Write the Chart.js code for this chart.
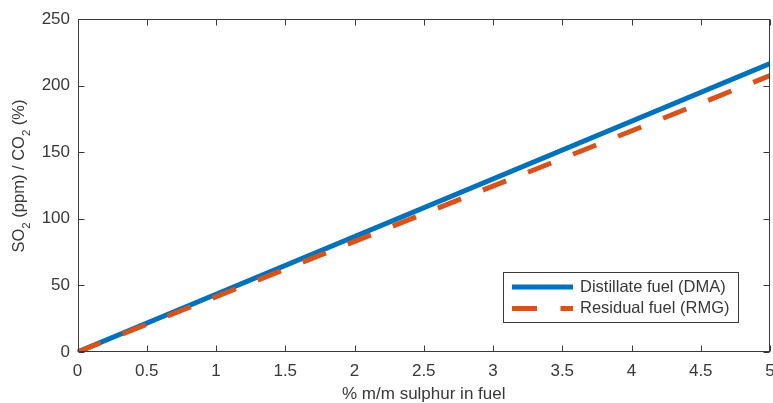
<!DOCTYPE html>
<html>
<head>
<meta charset="utf-8">
<script src="https://cdn.jsdelivr.net/npm/chart.js@4/dist/chart.umd.min.js"></script>
<style>
  html, body { margin: 0; padding: 0; background: #ffffff; }
  #wrap { width: 773px; height: 403px; }
</style>
</head>
<body>
<div id="wrap"><canvas id="c" width="773" height="403"></canvas></div>
<script>
// Fuel sulphur content (% m/m) and SO2/CO2 ratio at those points
const sulphurPct = [0, 5];
const distillateRatio = [0, 216.5];
const residualRatio = [0, 207.5];
const seriesLabels = ['Distillate fuel (DMA)', 'Residual fuel (RMG)'];
const xTicks = [0, 0.5, 1, 1.5, 2, 2.5, 3, 3.5, 4, 4.5, 5];
const yTicks = [0, 50, 100, 150, 200, 250];
const xTitle = '% m/m sulphur in fuel';

const BLUE = '#0072BD';
const ORANGE = '#D95319';
const AXIS = '#3a3a3a';
const TEXT = '#383838';
const FONT = '"Liberation Sans", Arial, Helvetica, sans-serif';

function pts(xs, ys) { return xs.map((x, i) => ({ x: x, y: ys[i] })); }

// Box around the plot with inward ticks on all four sides
const frame = {
  id: 'frame',
  afterDraw(chart) {
    const { ctx, chartArea: a, scales } = chart;
    ctx.save();
    ctx.strokeStyle = AXIS;
    ctx.lineWidth = 1;
    const L = Math.round(a.left) + 0.5, R = Math.round(a.right) - 0.5;
    const T = Math.round(a.top) + 0.5, B = Math.round(a.bottom) - 0.5;
    ctx.strokeRect(L, T, R - L, B - T);
    const len = 6;
    ctx.beginPath();
    xTicks.forEach(v => {
      const px = Math.round(scales.x.getPixelForValue(v)) + 0.5;
      ctx.moveTo(px, B); ctx.lineTo(px, B - len);
      ctx.moveTo(px, T); ctx.lineTo(px, T + len);
    });
    yTicks.forEach(v => {
      const py = Math.round(scales.y.getPixelForValue(v)) + 0.5;
      ctx.moveTo(L, py); ctx.lineTo(L + len, py);
      ctx.moveTo(R, py); ctx.lineTo(R - len, py);
    });
    ctx.stroke();
    ctx.restore();
  }
};

// Axis titles (y title carries subscripts)
const titles = {
  id: 'titles',
  afterDraw(chart) {
    const { ctx, chartArea: a } = chart;
    ctx.save();
    ctx.fillStyle = TEXT;
    ctx.font = '17px ' + FONT;
    ctx.textAlign = 'center';
    ctx.textBaseline = 'alphabetic';
    ctx.fillText(xTitle, (a.left + a.right) / 2, 399);

    // y title: SO2 (ppm) / CO2 (%)
    const parts = [
      ['SO', 0], ['2', 1], [' (ppm) / CO', 0], ['2', 1], [' (%)', 0]
    ];
    const big = '16.5px ' + FONT, small = '11.5px ' + FONT;
    let w = 0;
    parts.forEach(p => { ctx.font = p[1] ? small : big; w += ctx.measureText(p[0]).width; });
    ctx.translate(19, 176);
    ctx.rotate(-Math.PI / 2);
    ctx.textAlign = 'left';
    ctx.textBaseline = 'middle';
    let x = -w / 2;
    parts.forEach(p => {
      ctx.font = p[1] ? small : big;
      ctx.fillText(p[0], x, p[1] ? 8 : 0);
      x += ctx.measureText(p[0]).width;
    });
    ctx.restore();
  }
};

// Legend box inside the lower right of the plot
const legendBox = {
  id: 'legendBox',
  afterDraw(chart) {
    const { ctx } = chart;
    const x0 = 503.5, y0 = 272.5, w = 235, h = 50;
    ctx.save();
    ctx.fillStyle = '#ffffff';
    ctx.fillRect(x0, y0, w, h);
    ctx.strokeStyle = AXIS;
    ctx.lineWidth = 1;
    ctx.strokeRect(x0, y0, w, h);
    ctx.font = '16.5px ' + FONT;
    ctx.textBaseline = 'middle';
    ctx.textAlign = 'left';
    chart.data.datasets.forEach((ds, i) => {
      const y = 287 + i * 21.5;
      ctx.strokeStyle = ds.borderColor;
      ctx.lineWidth = 5;
      ctx.setLineDash(ds.borderDash || []);
      ctx.beginPath();
      ctx.moveTo(512, y);
      ctx.lineTo(573, y);
      ctx.stroke();
      ctx.setLineDash([]);
      ctx.fillStyle = TEXT;
      ctx.fillText(ds.label, 580, y);
    });
    ctx.restore();
  }
};

new Chart(document.getElementById('c'), {
  type: 'line',
  data: {
    datasets: [
      {
        label: seriesLabels[0],
        data: pts(sulphurPct, distillateRatio),
        borderColor: BLUE,
        borderWidth: 5,
        pointRadius: 0,
        fill: false,
        order: 2
      },
      {
        label: seriesLabels[1],
        data: pts(sulphurPct, residualRatio),
        borderColor: ORANGE,
        borderWidth: 5,
        borderDash: [25, 23.5],
        pointRadius: 0,
        fill: false,
        order: 1
      }
    ]
  },
  options: {
    responsive: false,
    animation: false,
    layout: { padding: { top: 19, right: 3, left: 0, bottom: 0 } },
    plugins: { legend: { display: false }, tooltip: { enabled: false } },
    scales: {
      x: {
        type: 'linear',
        min: 0, max: 5,
        afterBuildTicks(s) { s.ticks = xTicks.map(v => ({ value: v })); },
        afterFit(s) { s.height = 51; s.paddingLeft = 0; s.paddingRight = 0; },
        grid: { display: false, drawTicks: false },
        border: { display: false },
        ticks: {
          padding: 9,
          color: TEXT,
          font: { family: FONT, size: 17 },
          maxRotation: 0,
          callback: v => String(v)
        }
      },
      y: {
        type: 'linear',
        min: 0, max: 250,
        afterBuildTicks(s) { s.ticks = yTicks.map(v => ({ value: v })); },
        afterFit(s) { s.width = 77.5; s.paddingTop = 0; s.paddingBottom = 0; },
        grid: { display: false, drawTicks: false },
        border: { display: false },
        ticks: {
          padding: 7.5,
          color: TEXT,
          font: { family: FONT, size: 17 },
          callback: v => String(v)
        }
      }
    }
  },
  plugins: [frame, titles, legendBox]
});
</script>
</body>
</html>
